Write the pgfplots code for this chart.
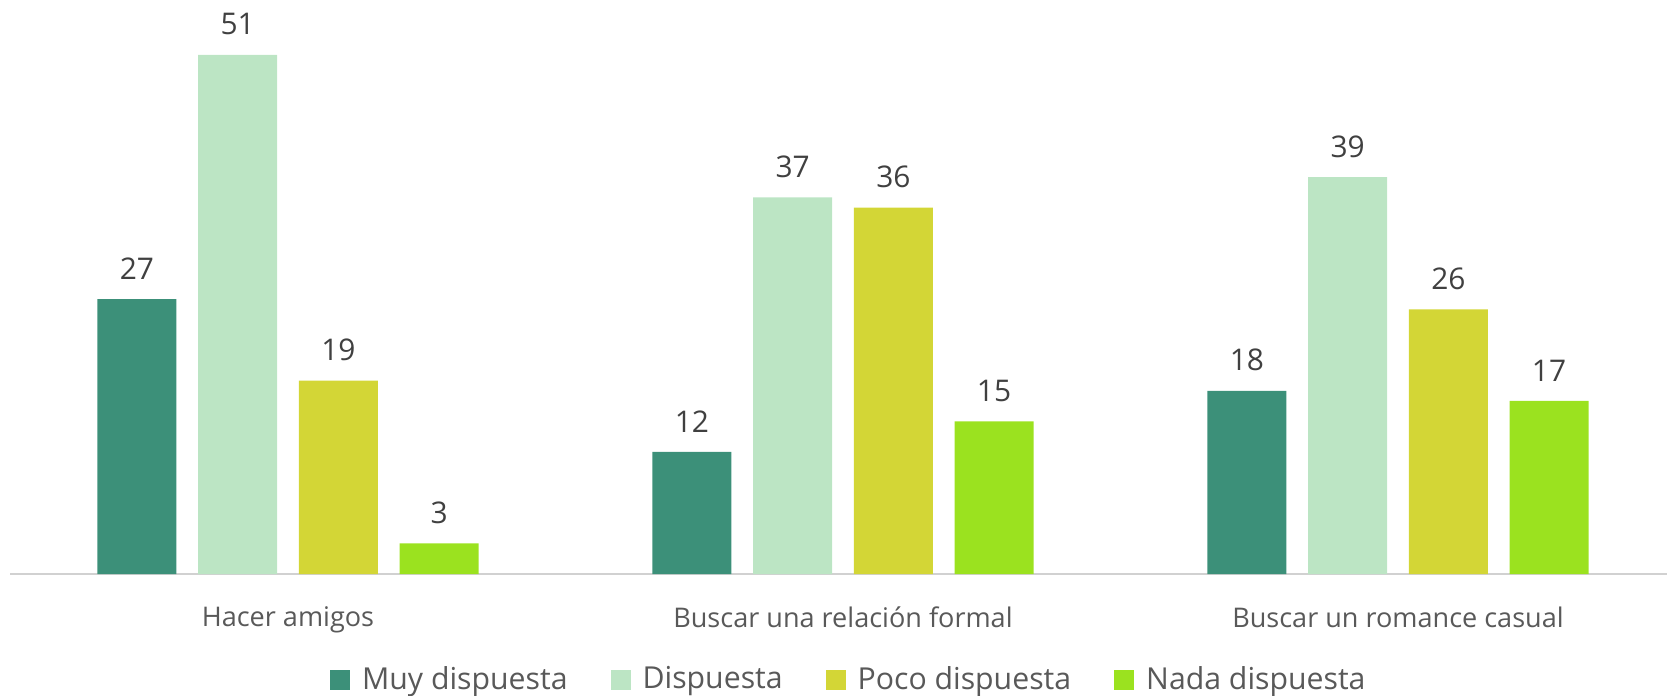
\documentclass[border=0pt]{standalone}
\usepackage{pgfplots}
\pgfplotsset{compat=1.18}
\usepackage{fontspec}
\setmainfont{Open Sans}
\definecolor{c1}{HTML}{3C9079}
\definecolor{c2}{HTML}{BCE5C4}
\definecolor{c3}{HTML}{D3D636}
\definecolor{c4}{HTML}{9BE21F}
\definecolor{lbl}{HTML}{404040}
\definecolor{cat}{HTML}{595959}
\begin{document}
\begin{tikzpicture}
\useasboundingbox (-0.105,-1.21) rectangle (16.565,5.74);
\begin{axis}[
  at={(0,0)}, anchor=south west,
  scale only axis,
  width=16.65cm, height=5.74cm,
  xmin=-0.5, xmax=2.5, ymin=0, ymax=56.4,
  ybar=0.217cm, bar width=0.79cm,
  axis x line*=bottom, axis y line=none,
  x axis line style={draw=black!18, line width=0.8pt, -},
  xtick={0,1,2},
  xticklabels={Hacer amigos, Buscar una relación formal, Buscar un romance casual},
  major tick length=0pt,
  xticklabel style={font=\fontsize{7.7}{9}\selectfont, text=cat, inner sep=0pt, anchor=north, yshift=-0.32cm},
  clip=false,
  /pgf/number format/assume math mode=true,
  nodes near coords,
  every node near coord/.append style={font=\fontsize{8.5}{10}\selectfont, text=lbl, inner sep=0pt, anchor=south, yshift=0.19cm},
  legend columns=4,
  legend style={draw=none, at={(0.505,-0.185)}, anchor=center, font=\fontsize{8.6}{10}\selectfont, text=cat,
    /tikz/every odd column/.append style={column sep=0.05cm},
    /tikz/every even column/.append style={column sep=0.36cm}},
  legend image code/.code={\fill[#1] (0cm,-0.1cm) rectangle (0.2cm,0.1cm);},
]
\addplot[fill=c1, draw=none] coordinates {(0,27) (1,12) (2,18)};
\addplot[fill=c2, draw=none] coordinates {(0,51) (1,37) (2,39)};
\addplot[fill=c3, draw=none] coordinates {(0,19) (1,36) (2,26)};
\addplot[fill=c4, draw=none] coordinates {(0,3) (1,15) (2,17)};
\legend{Muy dispuesta, Dispuesta, Poco dispuesta, Nada dispuesta}
\end{axis}
\end{tikzpicture}
\end{document}
